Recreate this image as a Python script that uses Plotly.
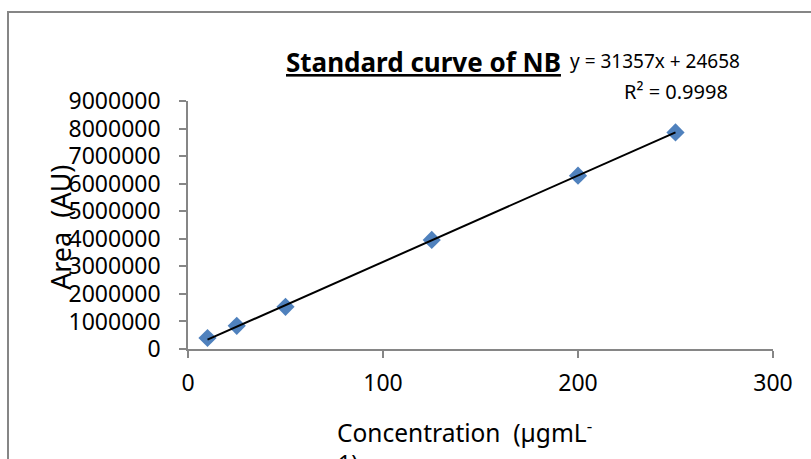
import plotly.graph_objects as go

concentration = [10, 25, 50, 125, 200, 250]
area = [400000, 840000, 1530000, 3960000, 6290000, 7860000]
slope = 31357
intercept = 24658
r_squared = 0.9998
y_ticks = [0, 1000000, 2000000, 3000000, 4000000, 5000000, 6000000, 7000000, 8000000, 9000000]
x_ticks = [0, 100, 200, 300]

W, H = 811, 459
L, R, T, B = 188, 38, 101, 110
PW = W - L - R
PH = H - T - B

def px(x):
    return (x - L) / PW

def py(y):
    return (H - B - y) / PH

FONT = "Noto Sans"
AX = "#868686"

fit_x = [min(concentration), max(concentration)]
fit_y = [slope * v + intercept for v in fit_x]

fig = go.Figure()
fig.add_trace(go.Scatter(
    x=concentration, y=area, mode="markers",
    marker=dict(symbol="diamond", size=14, color="#4F81BD", line=dict(width=0)),
    showlegend=False, hoverinfo="skip"))
fig.add_trace(go.Scatter(
    x=fit_x, y=fit_y, mode="lines",
    line=dict(color="black", width=2),
    showlegend=False, hoverinfo="skip"))

fig.update_layout(
    width=W, height=H,
    margin=dict(l=L, r=R, t=T, b=B, autoexpand=False),
    paper_bgcolor="white", plot_bgcolor="white",
    font=dict(family=FONT, color="black", size=23),
    xaxis=dict(range=[0, 300], tickvals=x_ticks, ticktext=[str(v) for v in x_ticks],
               showgrid=False, zeroline=False, showline=True, linecolor=AX, linewidth=1.5,
               ticks="outside", ticklen=7, tickcolor=AX, tickwidth=1.5, ticklabelstandoff=6,
               tickfont=dict(size=23, family=FONT), fixedrange=True),
    yaxis=dict(range=[0, 9000000], tickvals=y_ticks, ticktext=[str(v) for v in y_ticks],
               showgrid=False, zeroline=False, showline=True, linecolor=AX, linewidth=1.5,
               ticks="outside", ticklen=7, tickcolor=AX, tickwidth=1.5, ticklabelstandoff=14,
               tickfont=dict(size=23, family=FONT), fixedrange=True),
)

# outer chart border (extends past the right and bottom edges)
fig.add_shape(type="rect", xref="paper", yref="paper",
              x0=px(8), x1=px(W + 20), y0=py(H + 20), y1=py(12),
              line=dict(color=AX, width=2), fillcolor="rgba(0,0,0,0)", layer="below")

ann = []
ann.append(dict(text="<b><u>Standard curve of NB</u></b>", x=px(423), y=py(62),
                xref="paper", yref="paper", showarrow=False, xanchor="center", yanchor="middle",
                font=dict(size=26, family=FONT)))
ann.append(dict(text=f"y = {slope}x + {intercept}", x=px(655), y=py(61),
                xref="paper", yref="paper", showarrow=False, xanchor="center", yanchor="middle",
                font=dict(size=19, family=FONT)))
ann.append(dict(text=f"R² = {r_squared}", x=px(676), y=py(91),
                xref="paper", yref="paper", showarrow=False, xanchor="center", yanchor="middle",
                font=dict(size=20, family=FONT)))
ann.append(dict(text="Concentration\u00a0\u00a0(µgmL<sup>-</sup>", x=px(335), y=py(431),
                xref="paper", yref="paper", showarrow=False, xanchor="left", yanchor="middle",
                font=dict(size=24.5, family=FONT)))
ann.append(dict(text="1)", x=px(336), y=py(445),
                xref="paper", yref="paper", showarrow=False, xanchor="left", yanchor="top",
                font=dict(size=23, family=FONT)))
ann.append(dict(text="Area\u00a0\u00a0(AU)", x=px(60), y=py(228), textangle=-90,
                xref="paper", yref="paper", showarrow=False, xanchor="center", yanchor="middle",
                font=dict(size=27, family=FONT)))
fig.update_layout(annotations=ann)

fig.write_html("out.html", config={"displayModeBar": False},
               post_script="document.body.style.margin='0';")
